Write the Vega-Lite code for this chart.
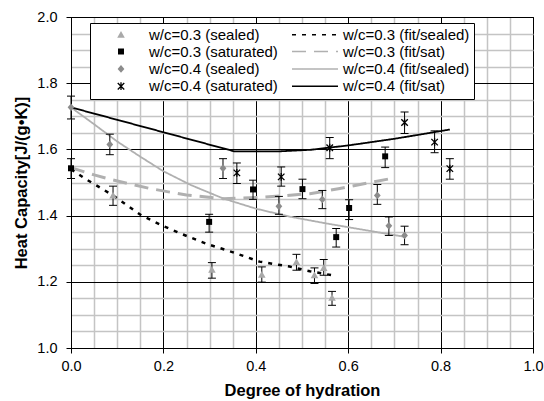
{
  "$schema": "https://vega.github.io/schema/vega-lite/v6.json",
  "width": 462,
  "height": 331,
  "autosize": {"type": "none"},
  "padding": {"left": 71, "top": 17, "right": 11, "bottom": 53},
  "background": "white",
  "config": {
    "font": "Liberation Sans",
    "view": {"stroke": "black", "strokeWidth": 1}
  },
  "datasets": {
    "pts": [
      {"series": "w/c=0.3 (sealed)", "x": 0.091, "y": 1.461, "lo": 1.431, "hi": 1.489},
      {"series": "w/c=0.3 (sealed)", "x": 0.305, "y": 1.237, "lo": 1.211, "hi": 1.258},
      {"series": "w/c=0.3 (sealed)", "x": 0.413, "y": 1.222, "lo": 1.199, "hi": 1.245},
      {"series": "w/c=0.3 (sealed)", "x": 0.488, "y": 1.260, "lo": 1.235, "hi": 1.283},
      {"series": "w/c=0.3 (sealed)", "x": 0.527, "y": 1.220, "lo": 1.195, "hi": 1.242},
      {"series": "w/c=0.3 (sealed)", "x": 0.547, "y": 1.242, "lo": 1.220, "hi": 1.267},
      {"series": "w/c=0.3 (sealed)", "x": 0.565, "y": 1.152, "lo": 1.129, "hi": 1.171},
      {"series": "w/c=0.3 (saturated)", "x": 0.0, "y": 1.543, "lo": 1.512, "hi": 1.572},
      {"series": "w/c=0.3 (saturated)", "x": 0.299, "y": 1.381, "lo": 1.350, "hi": 1.404},
      {"series": "w/c=0.3 (saturated)", "x": 0.394, "y": 1.479, "lo": 1.449, "hi": 1.507},
      {"series": "w/c=0.3 (saturated)", "x": 0.501, "y": 1.480, "lo": 1.451, "hi": 1.510},
      {"series": "w/c=0.3 (saturated)", "x": 0.574, "y": 1.335, "lo": 1.305, "hi": 1.361},
      {"series": "w/c=0.3 (saturated)", "x": 0.602, "y": 1.423, "lo": 1.388, "hi": 1.448},
      {"series": "w/c=0.3 (saturated)", "x": 0.680, "y": 1.579, "lo": 1.545, "hi": 1.607},
      {"series": "w/c=0.4 (sealed)", "x": 0.0, "y": 1.727, "lo": 1.692, "hi": 1.761},
      {"series": "w/c=0.4 (sealed)", "x": 0.084, "y": 1.615, "lo": 1.584, "hi": 1.646},
      {"series": "w/c=0.4 (sealed)", "x": 0.329, "y": 1.543, "lo": 1.512, "hi": 1.572},
      {"series": "w/c=0.4 (sealed)", "x": 0.450, "y": 1.428, "lo": 1.404, "hi": 1.458},
      {"series": "w/c=0.4 (sealed)", "x": 0.544, "y": 1.449, "lo": 1.421, "hi": 1.476},
      {"series": "w/c=0.4 (sealed)", "x": 0.663, "y": 1.461, "lo": 1.434, "hi": 1.494},
      {"series": "w/c=0.4 (sealed)", "x": 0.688, "y": 1.369, "lo": 1.340, "hi": 1.396},
      {"series": "w/c=0.4 (sealed)", "x": 0.722, "y": 1.340, "lo": 1.312, "hi": 1.368},
      {"series": "w/c=0.4 (saturated)", "x": 0.359, "y": 1.529, "lo": 1.497, "hi": 1.559},
      {"series": "w/c=0.4 (saturated)", "x": 0.455, "y": 1.517, "lo": 1.489, "hi": 1.547},
      {"series": "w/c=0.4 (saturated)", "x": 0.560, "y": 1.605, "lo": 1.572, "hi": 1.636},
      {"series": "w/c=0.4 (saturated)", "x": 0.722, "y": 1.681, "lo": 1.648, "hi": 1.713},
      {"series": "w/c=0.4 (saturated)", "x": 0.787, "y": 1.622, "lo": 1.590, "hi": 1.656},
      {"series": "w/c=0.4 (saturated)", "x": 0.820, "y": 1.542, "lo": 1.510, "hi": 1.572}
    ],
    "fits": [
      {"series": "w/c=0.3 (fit/sealed)", "x": 0.0, "y": 1.540},
      {"series": "w/c=0.3 (fit/sealed)", "x": 0.03, "y": 1.512},
      {"series": "w/c=0.3 (fit/sealed)", "x": 0.091, "y": 1.461},
      {"series": "w/c=0.3 (fit/sealed)", "x": 0.152, "y": 1.401},
      {"series": "w/c=0.3 (fit/sealed)", "x": 0.199, "y": 1.369},
      {"series": "w/c=0.3 (fit/sealed)", "x": 0.235, "y": 1.347},
      {"series": "w/c=0.3 (fit/sealed)", "x": 0.293, "y": 1.315},
      {"series": "w/c=0.3 (fit/sealed)", "x": 0.351, "y": 1.289},
      {"series": "w/c=0.3 (fit/sealed)", "x": 0.408, "y": 1.261},
      {"series": "w/c=0.3 (fit/sealed)", "x": 0.473, "y": 1.246},
      {"series": "w/c=0.3 (fit/sealed)", "x": 0.517, "y": 1.232},
      {"series": "w/c=0.3 (fit/sealed)", "x": 0.564, "y": 1.220},
      {"series": "w/c=0.3 (fit/sat)", "x": 0.0, "y": 1.545},
      {"series": "w/c=0.3 (fit/sat)", "x": 0.05, "y": 1.523},
      {"series": "w/c=0.3 (fit/sat)", "x": 0.09, "y": 1.508},
      {"series": "w/c=0.3 (fit/sat)", "x": 0.13, "y": 1.495},
      {"series": "w/c=0.3 (fit/sat)", "x": 0.17, "y": 1.482},
      {"series": "w/c=0.3 (fit/sat)", "x": 0.25, "y": 1.462},
      {"series": "w/c=0.3 (fit/sat)", "x": 0.33, "y": 1.451},
      {"series": "w/c=0.3 (fit/sat)", "x": 0.408, "y": 1.455},
      {"series": "w/c=0.3 (fit/sat)", "x": 0.517, "y": 1.466},
      {"series": "w/c=0.3 (fit/sat)", "x": 0.582, "y": 1.482},
      {"series": "w/c=0.3 (fit/sat)", "x": 0.693, "y": 1.512},
      {"series": "w/c=0.4 (fit/sealed)", "x": 0.0, "y": 1.727},
      {"series": "w/c=0.4 (fit/sealed)", "x": 0.05, "y": 1.676},
      {"series": "w/c=0.4 (fit/sealed)", "x": 0.1, "y": 1.624},
      {"series": "w/c=0.4 (fit/sealed)", "x": 0.15, "y": 1.578},
      {"series": "w/c=0.4 (fit/sealed)", "x": 0.2, "y": 1.534},
      {"series": "w/c=0.4 (fit/sealed)", "x": 0.26, "y": 1.492},
      {"series": "w/c=0.4 (fit/sealed)", "x": 0.329, "y": 1.452},
      {"series": "w/c=0.4 (fit/sealed)", "x": 0.4, "y": 1.421},
      {"series": "w/c=0.4 (fit/sealed)", "x": 0.473, "y": 1.397},
      {"series": "w/c=0.4 (fit/sealed)", "x": 0.55, "y": 1.377},
      {"series": "w/c=0.4 (fit/sealed)", "x": 0.65, "y": 1.353},
      {"series": "w/c=0.4 (fit/sealed)", "x": 0.722, "y": 1.336},
      {"series": "w/c=0.4 (fit/sat)", "x": 0.0, "y": 1.727},
      {"series": "w/c=0.4 (fit/sat)", "x": 0.354, "y": 1.594},
      {"series": "w/c=0.4 (fit/sat)", "x": 0.448, "y": 1.594},
      {"series": "w/c=0.4 (fit/sat)", "x": 0.52, "y": 1.599},
      {"series": "w/c=0.4 (fit/sat)", "x": 0.6, "y": 1.612},
      {"series": "w/c=0.4 (fit/sat)", "x": 0.7, "y": 1.632},
      {"series": "w/c=0.4 (fit/sat)", "x": 0.82, "y": 1.660}
    ]
  },
  "layer": [
    {
      "data": {"name": "fits"},
      "transform": [{"filter": "datum.series == 'w/c=0.4 (fit/sealed)'"}],
      "mark": {"type": "line", "strokeWidth": 1.8},
      "encoding": {
        "x": {
          "field": "x", "type": "quantitative",
          "scale": {"domain": [0, 1], "nice": false, "zero": false},
          "axis": {
            "title": "Degree of hydration",
            "values": [0, 0.05, 0.1, 0.15, 0.2, 0.25, 0.3, 0.35, 0.4, 0.45, 0.5, 0.55, 0.6, 0.65, 0.7, 0.75, 0.8, 0.85, 0.9, 0.95, 1.0],
            "tickCount": 50,
            "format": ".1f",
            "labelExpr": "abs(datum.value*5 - round(datum.value*5)) < 0.001 ? datum.label : ''",
            "grid": true,
            "gridColor": {"condition": {"test": "abs(datum.value*5 - round(datum.value*5)) < 0.001", "value": "black"}, "value": "#c4c4c4"},
            "gridWidth": {"condition": {"test": "abs(datum.value*5 - round(datum.value*5)) < 0.001", "value": 1}, "value": 1.5},
            "tickColor": {"condition": {"test": "abs(datum.value*5 - round(datum.value*5)) < 0.001", "value": "black"}, "value": "transparent"},
            "tickSize": 5, "tickWidth": 1,
            "domainColor": "black", "domainWidth": 1,
            "labelFontSize": 14.5, "labelColor": "black", "labelPadding": 6,
            "labelFlush": false, "labelOverlap": false,
            "titleFontSize": 16.5, "titleFontWeight": "bold", "titleColor": "black", "titlePadding": 10
          }
        },
        "y": {
          "field": "y", "type": "quantitative",
          "scale": {"domain": [1, 2], "nice": false, "zero": false},
          "axis": {
            "title": "Heat Capacity[J/(g•K)]",
            "values": [1, 1.05, 1.1, 1.15, 1.2, 1.25, 1.3, 1.35, 1.4, 1.45, 1.5, 1.55, 1.6, 1.65, 1.7, 1.75, 1.8, 1.85, 1.9, 1.95, 2.0],
            "tickCount": 50,
            "format": ".1f",
            "labelExpr": "abs(datum.value*5 - round(datum.value*5)) < 0.001 ? datum.label : ''",
            "grid": true,
            "gridColor": {"condition": {"test": "abs(datum.value*5 - round(datum.value*5)) < 0.001", "value": "black"}, "value": "#c4c4c4"},
            "gridWidth": {"condition": {"test": "abs(datum.value*5 - round(datum.value*5)) < 0.001", "value": 1}, "value": 1.5},
            "tickColor": {"condition": {"test": "abs(datum.value*5 - round(datum.value*5)) < 0.001", "value": "black"}, "value": "transparent"},
            "tickSize": 5, "tickWidth": 1,
            "domainColor": "black", "domainWidth": 1,
            "labelFontSize": 14.5, "labelColor": "black", "labelPadding": 9,
            "labelFlush": false, "labelOverlap": false,
            "titleFontSize": 16.5, "titleFontWeight": "bold", "titleColor": "black", "titlePadding": 7
          }
        },
        "stroke": {
          "field": "series", "type": "nominal",
          "scale": {
            "domain": ["w/c=0.3 (sealed)", "w/c=0.3 (saturated)", "w/c=0.4 (sealed)", "w/c=0.4 (saturated)", "w/c=0.3 (fit/sealed)", "w/c=0.3 (fit/sat)", "w/c=0.4 (fit/sealed)", "w/c=0.4 (fit/sat)"],
            "range": ["transparent", "transparent", "transparent", "transparent", "#000000", "#b0b0b0", "#b0b0b0", "#000000"]
          }
        },
        "strokeDash": {
          "field": "series", "type": "nominal",
          "scale": {
            "domain": ["w/c=0.3 (sealed)", "w/c=0.3 (saturated)", "w/c=0.4 (sealed)", "w/c=0.4 (saturated)", "w/c=0.3 (fit/sealed)", "w/c=0.3 (fit/sat)", "w/c=0.4 (fit/sealed)", "w/c=0.4 (fit/sat)"],
            "range": [[1, 0], [1, 0], [1, 0], [1, 0], [4, 6], [14, 8], [1, 0], [1, 0]]
          }
        }
      }
    },
    {
      "data": {"name": "fits"},
      "transform": [{"filter": "datum.series == 'w/c=0.3 (fit/sat)'"}],
      "mark": {"type": "line", "strokeWidth": 3},
      "encoding": {
        "x": {"field": "x", "type": "quantitative"},
        "y": {"field": "y", "type": "quantitative"},
        "stroke": {"field": "series", "type": "nominal"},
        "strokeDash": {"field": "series", "type": "nominal"}
      }
    },
    {
      "data": {"name": "fits"},
      "transform": [{"filter": "datum.series == 'w/c=0.3 (fit/sealed)'"}],
      "mark": {"type": "line", "strokeWidth": 2.5},
      "encoding": {
        "x": {"field": "x", "type": "quantitative"},
        "y": {"field": "y", "type": "quantitative"},
        "stroke": {"field": "series", "type": "nominal"},
        "strokeDash": {"field": "series", "type": "nominal"}
      }
    },
    {
      "data": {"name": "fits"},
      "transform": [{"filter": "datum.series == 'w/c=0.4 (fit/sat)'"}],
      "mark": {"type": "line", "strokeWidth": 1.8},
      "encoding": {
        "x": {"field": "x", "type": "quantitative"},
        "y": {"field": "y", "type": "quantitative"},
        "stroke": {"field": "series", "type": "nominal"},
        "strokeDash": {"field": "series", "type": "nominal"}
      }
    },
    {
      "data": {"name": "pts"},
      "mark": {"type": "rule", "color": "black", "strokeWidth": 1},
      "encoding": {
        "x": {"field": "x", "type": "quantitative"},
        "y": {"field": "lo", "type": "quantitative"},
        "y2": {"field": "hi"}
      }
    },
    {
      "data": {"name": "pts"},
      "mark": {"type": "tick", "orient": "horizontal", "size": 8, "thickness": 1, "color": "black", "opacity": 1},
      "encoding": {
        "x": {"field": "x", "type": "quantitative"},
        "y": {"field": "lo", "type": "quantitative"}
      }
    },
    {
      "data": {"name": "pts"},
      "mark": {"type": "tick", "orient": "horizontal", "size": 8, "thickness": 1, "color": "black", "opacity": 1},
      "encoding": {
        "x": {"field": "x", "type": "quantitative"},
        "y": {"field": "hi", "type": "quantitative"}
      }
    },
    {
      "data": {"name": "pts"},
      "mark": {"type": "point", "filled": true, "size": 2704, "opacity": 1, "strokeWidth": 0},
      "encoding": {
        "x": {"field": "x", "type": "quantitative"},
        "y": {"field": "y", "type": "quantitative"},
        "fill": {
          "field": "series", "type": "nominal",
          "scale": {
            "domain": ["w/c=0.3 (sealed)", "w/c=0.3 (saturated)", "w/c=0.4 (sealed)", "w/c=0.4 (saturated)", "w/c=0.3 (fit/sealed)", "w/c=0.3 (fit/sat)", "w/c=0.4 (fit/sealed)", "w/c=0.4 (fit/sat)"],
            "range": ["#a9a9a9", "#000000", "#8c8c8c", "#000000", "transparent", "transparent", "transparent", "transparent"]
          }
        },
        "shape": {
          "field": "series", "type": "nominal",
          "scale": {
            "domain": ["w/c=0.3 (sealed)", "w/c=0.3 (saturated)", "w/c=0.4 (sealed)", "w/c=0.4 (saturated)", "w/c=0.3 (fit/sealed)", "w/c=0.3 (fit/sat)", "w/c=0.4 (fit/sealed)", "w/c=0.4 (fit/sat)"],
            "range": [
              "M0,-0.14L0.145,0.12L-0.145,0.12Z",
              "M-0.115,-0.115L0.115,-0.115L0.115,0.115L-0.115,0.115Z",
              "M0,-0.15L0.13,0L0,0.15L-0.13,0Z",
              "M-0.025,-0.15L0.025,-0.15L0.025,0.15L-0.025,0.15Z M-0.107,-0.143L0.143,0.107L0.107,0.143L-0.143,-0.107Z M0.143,-0.107L-0.107,0.143L-0.143,0.107L0.107,-0.143Z",
              "M-0.885,0L0.885,0",
              "M-0.885,0L0.885,0",
              "M-0.885,0L0.885,0",
              "M-0.885,0L0.885,0"
            ]
          },
          "legend": {
            "title": null,
            "orient": "none",
            "legendX": 19,
            "legendY": 6,
            "columns": 2,
            "columnPadding": 10,
            "rowPadding": 1.3,
            "padding": 4,
            "strokeColor": "black",
            "fillColor": "white",
            "labelFontSize": 15,
            "labelFont": "Liberation Sans",
            "labelColor": "black",
            "labelOffset": 1,
            "labelLimit": 300,
            "clipHeight": 14.6,
            "symbolSize": 2704,
            "encode": {
              "symbols": {
                "fill": {"value": {"expr": "scale('fill', datum.value)"}},
                "stroke": {"value": {"expr": "scale('stroke', datum.value)"}},
                "strokeDash": {"value": {"expr": "scale('strokeDash', datum.value)"}},
                "strokeWidth": {"value": {"expr": "datum.value == 'w/c=0.3 (fit/sat)' ? 3 : (datum.value == 'w/c=0.3 (fit/sealed)' ? 2.5 : 1.8)"}},
                "opacity": {"value": 1}
              }
            }
          }
        }
      }
    }
  ]
}
